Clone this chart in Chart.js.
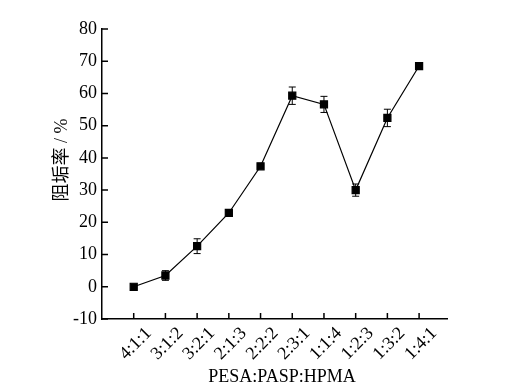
<!DOCTYPE html>
<html lang="zh">
<head>
  <meta charset="UTF-8">
  <title>阻垢率</title>
  <style>
    body { margin: 0; background: #fff; }
    canvas { display: block; }
  </style>
  <script src="https://cdn.jsdelivr.net/npm/chart.js"></script>
</head>
<body>
  <canvas id="myChart" width="516" height="387"></canvas>
  <script>
    // 配比 / 阻垢率 / 误差
    const categories = ['4:1:1', '3:1:2', '3:2:1', '2:1:3', '2:2:2', '2:3:1', '1:1:4', '1:2:3', '1:3:2', '1:4:1'];
    const values = [0, 3.5, 12.6, 22.9, 37.4, 59.3, 56.6, 30.0, 52.4, 68.5];
    const errors = [0, 1.5, 2.3, 0, 0, 2.7, 2.5, 1.9, 2.7, 0];
    const yTicks = [-10, 0, 10, 20, 30, 40, 50, 60, 70, 80];
    const xTitle = 'PESA:PASP:HPMA';
    const yTitle = '阻垢率 / %';

    const serif = "'Liberation Serif', 'Noto Sans CJK SC', serif";

    // error bars
    const errorBars = {
      id: 'errorBars',
      afterDatasetsDraw(chart) {
        const xs = chart.scales.x, ys = chart.scales.y, ctx = chart.ctx;
        ctx.save();
        ctx.strokeStyle = '#000';
        ctx.lineWidth = 1;
        errors.forEach((e, i) => {
          if (!e) return;
          const x = xs.getPixelForValue(i);
          const y1 = ys.getPixelForValue(values[i] + e);
          const y2 = ys.getPixelForValue(values[i] - e);
          ctx.beginPath();
          ctx.moveTo(x, y1); ctx.lineTo(x, y2);
          ctx.moveTo(x - 3.5, y1); ctx.lineTo(x + 3.5, y1);
          ctx.moveTo(x - 3.5, y2); ctx.lineTo(x + 3.5, y2);
          ctx.stroke();
        });
        ctx.restore();
      }
    };

    // inward ticks + axis titles
    const axisExtras = {
      id: 'axisExtras',
      afterDraw(chart) {
        const xs = chart.scales.x, ys = chart.scales.y, ctx = chart.ctx;
        const area = chart.chartArea;
        ctx.save();
        ctx.strokeStyle = '#000';
        ctx.lineWidth = 1.5;
        ctx.beginPath();
        xs.ticks.forEach(t => {
          const x = xs.getPixelForValue(t.value);
          ctx.moveTo(x, area.bottom); ctx.lineTo(x, area.bottom - 6);
        });
        ys.ticks.forEach(t => {
          const y = ys.getPixelForValue(t.value);
          ctx.moveTo(area.left, y); ctx.lineTo(area.left + 6, y);
        });
        ctx.stroke();

        ctx.fillStyle = '#000';
        ctx.textAlign = 'center';
        ctx.textBaseline = 'middle';
        ctx.font = '18px ' + serif;
        ctx.fillText(xTitle, 282, 377);
        ctx.translate(62, 160);
        ctx.rotate(-Math.PI / 2);
        ctx.fillText(yTitle, 0, 0);
        ctx.restore();
      }
    };

    const ctx = document.getElementById('myChart').getContext('2d');
    new Chart(ctx, {
      type: 'line',
      data: {
        datasets: [{
          data: values.map((v, i) => ({ x: i, y: v })),
          borderColor: '#000',
          borderWidth: 1.2,
          backgroundColor: '#000',
          pointStyle: 'rect',
          pointRadius: 5,
          pointHoverRadius: 5,
          tension: 0
        }]
      },
      options: {
        responsive: false,
        animation: false,
        layout: { padding: { left: 0, right: 69, top: 29, bottom: 0 } },
        plugins: { legend: { display: false }, tooltip: { enabled: false } },
        scales: {
          x: {
            type: 'linear',
            min: -1,
            max: 9.88,
            afterBuildTicks(scale) {
              scale.ticks = categories.map((c, i) => ({ value: i }));
            },
            afterFit(scale) { scale.height = 68; },
            grid: { display: false, drawTicks: false, tickLength: 0 },
            border: { display: true, color: '#000', width: 1.5 },
            ticks: {
              color: '#000',
              font: { family: serif, size: 18 },
              minRotation: 45,
              maxRotation: 45,
              padding: 4,
              labelOffset: 15,
              callback: v => categories[v]
            }
          },
          y: {
            min: -10,
            max: 80,
            afterBuildTicks(scale) {
              scale.ticks = yTicks.map(v => ({ value: v }));
            },
            afterFit(scale) { scale.width = 102; },
            grid: { display: false, drawTicks: false, tickLength: 0 },
            border: { display: true, color: '#000', width: 1.5 },
            ticks: {
              color: '#000',
              font: { family: serif, size: 18 },
              padding: 5
            }
          }
        }
      },
      plugins: [errorBars, axisExtras]
    });
  </script>
</body>
</html>
